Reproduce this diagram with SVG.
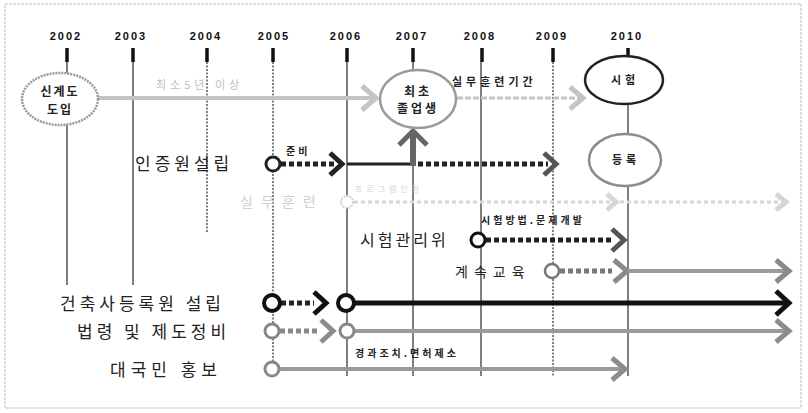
<svg xmlns="http://www.w3.org/2000/svg" width="808" height="413" viewBox="0 0 808 413">
<style>
.yr{font-family:"Liberation Sans",Arial,sans-serif;font-size:11px;font-weight:bold;fill:#111;letter-spacing:2px;text-anchor:middle}
.k{font-family:"Noto Sans CJK KR","Noto Sans",sans-serif;fill:#222}
.lab{font-size:17px;letter-spacing:4px}
.sm{font-size:10px;font-weight:bold;letter-spacing:3px}
.vl{stroke:#555;stroke-width:1.5;fill:none}
.vd{stroke:#555;stroke-width:1.5;fill:none;stroke-dasharray:2 1.5}
.tick{stroke:#111;stroke-width:3.5}
.blk{stroke:#222;fill:none}
.gry{stroke:#8c8c8c;fill:none}
.lt{stroke:#c4c4c4;fill:none}
.dot{stroke-width:5;stroke-dasharray:5 3}
.chev{stroke-width:5;fill:none;stroke-linejoin:miter}
</style>
<rect x="5" y="4" width="796" height="404" fill="#fff" stroke="#bdbdbd" stroke-width="1" stroke-dasharray="3 1"/>

<g id="years">
<text class="yr" x="66" y="40">2002</text>
<text class="yr" x="131" y="40">2003</text>
<text class="yr" x="206" y="40">2004</text>
<text class="yr" x="274" y="40">2005</text>
<text class="yr" x="346" y="40">2006</text>
<text class="yr" x="412" y="40">2007</text>
<text class="yr" x="480" y="40">2008</text>
<text class="yr" x="552" y="40">2009</text>
<text class="yr" x="627" y="40">2010</text>
<line class="tick" x1="67" y1="48" x2="67" y2="62"/>
<line class="tick" x1="133" y1="48" x2="133" y2="62"/>
<line class="tick" x1="207" y1="48" x2="207" y2="62"/>
<line class="tick" x1="273" y1="48" x2="273" y2="62"/>
<line class="tick" x1="347" y1="48" x2="347" y2="62"/>
<line class="tick" x1="413" y1="48" x2="413" y2="62"/>
<line class="tick" x1="482" y1="48" x2="482" y2="62"/>
<line class="tick" x1="553" y1="48" x2="553" y2="62"/>
<line class="tick" x1="628" y1="48" x2="628" y2="60"/>
</g>

<g id="connectors">
<!-- vertical year lines -->
<line class="vl" x1="67" y1="62" x2="67" y2="73"/>
<line class="vl" x1="67" y1="125" x2="67" y2="285"/>
<line class="vl" x1="133" y1="62" x2="133" y2="285"/>
<line class="vd" x1="207" y1="62" x2="207" y2="233"/>
<line class="vd" x1="273" y1="62" x2="273" y2="372"/>
<line class="vl" x1="347" y1="62" x2="347" y2="376"/>
<line class="vl" x1="413" y1="62" x2="413" y2="70"/>
<line class="vl" x1="413" y1="164" x2="413" y2="376"/>
<line class="vl" x1="481" y1="62" x2="481" y2="376"/>
<line class="vd" x1="553" y1="62" x2="553" y2="376"/>
<line class="vl" x1="628" y1="104" x2="628" y2="134"/>
<line class="vl" x1="628" y1="186" x2="628" y2="376"/>

<!-- top row -->
<line class="lt" x1="98" y1="98" x2="374" y2="98" stroke-width="4"/>
<polyline class="lt chev" points="362,86 376,98 362,110"/>
<line class="lt" x1="457" y1="98" x2="580" y2="98" stroke-width="3" stroke-dasharray="6 2"/>
<polyline class="lt chev" points="570,87 583,98 570,109" stroke-width="3"/>

<!-- 인증원 row -->
<line class="blk dot" x1="281" y1="164" x2="336" y2="164"/>
<polyline class="blk chev" points="330,153 342,164 330,175" stroke="#333"/>
<line class="blk" x1="347" y1="164" x2="413" y2="164" stroke-width="3"/>
<line class="blk dot" x1="418" y1="164" x2="548" y2="164"/>
<polyline class="chev" points="544,153 556,164 544,175" stroke="#555"/>
<line x1="413" y1="166" x2="413" y2="134" stroke="#666" stroke-width="6"/>
<polyline class="chev" points="399,145 413,131 427,145" stroke="#666" stroke-width="6"/>

<!-- faded row -->
<line x1="354" y1="202" x2="782" y2="202" stroke="#d6d6d6" stroke-width="3" stroke-dasharray="4 3"/>
<polyline class="chev" points="607,194 616,202 607,210" stroke="#d6d6d6" stroke-width="3"/>
<polyline class="chev" points="776,194 786,202 776,210" stroke="#d6d6d6" stroke-width="3"/>

<!-- 시험관리위 row -->
<line class="blk dot" x1="486" y1="240" x2="614" y2="240" stroke="#333"/>
<polyline class="chev" points="612,229 624,240 612,251" stroke="#555"/>

<!-- 계속교육 row -->
<line class="dot" x1="560" y1="271" x2="612" y2="271" stroke="#777" stroke-width="4"/>
<polyline class="chev" points="614,260 627,271 614,282" stroke="#8a8a8a"/>
<line x1="628" y1="271" x2="786" y2="271" stroke="#9a9a9a" stroke-width="4"/>
<polyline class="chev" points="776,260 789,271 776,282" stroke="#8a8a8a"/>

<!-- 건축사등록원 row -->
<line class="blk dot" x1="281" y1="303" x2="314" y2="303" stroke="#111"/>
<polyline class="chev" points="314,292 326,303 314,314" stroke="#111" stroke-width="6"/>
<line x1="355" y1="303" x2="786" y2="303" stroke="#111" stroke-width="5"/>
<polyline class="chev" points="776,291 789,303 776,315" stroke="#111" stroke-width="6"/>

<!-- 법령 row -->
<line class="dot" x1="280" y1="331" x2="318" y2="331" stroke="#888" stroke-width="4"/>
<polyline class="chev" points="321,320 333,331 321,342" stroke="#8c8c8c"/>
<line x1="355" y1="331" x2="786" y2="331" stroke="#9a9a9a" stroke-width="4"/>
<polyline class="chev" points="776,320 789,331 776,342" stroke="#8c8c8c"/>

<!-- 대국민 홍보 row -->
<line x1="280" y1="369" x2="624" y2="369" stroke="#9a9a9a" stroke-width="4"/>
<polyline class="chev" points="612,358 625,369 612,380" stroke="#8c8c8c"/>
</g>

<g id="n-sinjedo">
<ellipse cx="60" cy="99" rx="38" ry="26" fill="#fff" stroke="#999" stroke-width="2.5" stroke-dasharray="2 1"/>
<text class="k" x="60" y="96" font-size="12" font-weight="bold" text-anchor="middle" letter-spacing="2">신계도</text>
<text class="k" x="60" y="114" font-size="12" font-weight="bold" text-anchor="middle" letter-spacing="2">도입</text>
</g>
<text class="k" x="156" y="89" font-size="11" fill="#bbb" style="fill:#bdbdbd" letter-spacing="4">최소5년 이상</text>

<g id="n-first">
<ellipse cx="418" cy="99" rx="38" ry="29" fill="#fff" stroke="#9a9a9a" stroke-width="2.5"/>
<text class="k" x="418" y="96" font-size="12" font-weight="bold" text-anchor="middle" letter-spacing="3">최초</text>
<text class="k" x="418" y="113" font-size="12" font-weight="bold" text-anchor="middle" letter-spacing="3">졸업생</text>
</g>
<text class="k" x="452" y="86" font-size="11" font-weight="bold" letter-spacing="4">실무훈련기간</text>

<g id="n-exam">
<ellipse cx="624" cy="80" rx="39" ry="24" fill="#fff" stroke="#222" stroke-width="2.5"/>
<text class="k" x="625" y="84" font-size="11" font-weight="bold" text-anchor="middle" letter-spacing="4">시험</text>
</g>
<g id="n-reg">
<ellipse cx="625" cy="160" rx="36" ry="26" fill="#fff" stroke="#8c8c8c" stroke-width="2.5"/>
<text class="k" x="626" y="164" font-size="11" font-weight="bold" text-anchor="middle" letter-spacing="4">등록</text>
</g>

<g id="n-injeung">
<text class="k lab" x="135" y="170">인증원설립</text>
<circle cx="273" cy="164" r="7" fill="#fff" stroke="#222" stroke-width="3"/>
<text class="k sm" x="286" y="155">준비</text>
</g>

<g id="n-silmu">
<text class="k" x="240" y="207" font-size="14" letter-spacing="8" style="fill:#d0d0d0">실무훈련</text>
<circle cx="347" cy="202" r="6" fill="#fff" stroke="#d0d0d0" stroke-width="2" stroke-dasharray="2 1"/>
<text class="k" x="355" y="192" font-size="8" letter-spacing="4" style="fill:#d4d4d4">프로그램인정</text>
</g>

<g id="n-exam-committee">
<text class="k" x="360" y="246" font-size="16" letter-spacing="3">시험관리위</text>
<circle cx="478" cy="240" r="7" fill="#fff" stroke="#111" stroke-width="3"/>
<text class="k sm" x="481" y="224">시험방법.문제개발</text>
</g>

<g id="n-edu">
<text class="k" x="455" y="277" font-size="14" letter-spacing="6">계속교육</text>
<circle cx="552" cy="271" r="7" fill="#fff" stroke="#777" stroke-width="2.5"/>
</g>

<g id="n-register">
<text class="k lab" x="60" y="310" font-size="18">건축사등록원 설립</text>
<circle cx="272" cy="303" r="8" fill="#fff" stroke="#111" stroke-width="4"/>
<circle cx="346" cy="303" r="8" fill="#fff" stroke="#111" stroke-width="4"/>
</g>

<g id="n-law">
<text class="k lab" x="77" y="338" font-size="18">법령 및 제도정비</text>
<circle cx="272" cy="331" r="7" fill="#fff" stroke="#888" stroke-width="3"/>
<circle cx="347" cy="331" r="7" fill="#fff" stroke="#888" stroke-width="3"/>
<text class="k sm" x="355" y="357">경과조치.면허제소</text>
</g>

<g id="n-pr">
<text class="k lab" x="110" y="376" font-size="18" style="letter-spacing:5px">대국민 홍보</text>
<circle cx="272" cy="369" r="7" fill="#fff" stroke="#888" stroke-width="3"/>
</g>
</svg>
